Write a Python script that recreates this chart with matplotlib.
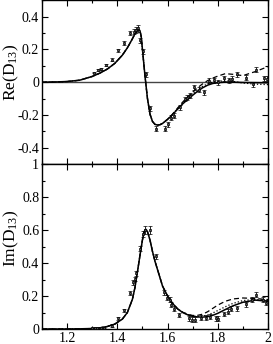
import matplotlib
matplotlib.use("Agg")
import matplotlib.pyplot as plt
from matplotlib.ticker import MultipleLocator, FixedLocator
import numpy as np

plt.rcParams['font.family'] = ['Liberation Serif', 'DejaVu Serif']
plt.rcParams['mathtext.fontset'] = 'custom'
plt.rcParams['mathtext.rm'] = 'Liberation Serif'
plt.rcParams['mathtext.it'] = 'Liberation Serif:italic'

# ---- Top panel: Re(D13) data ----
re_x = [1.309, 1.323, 1.336, 1.353, 1.379, 1.401, 1.428, 1.452, 1.465, 1.476, 1.483,
        1.489, 1.501, 1.513, 1.529, 1.552, 1.588, 1.601, 1.615, 1.625, 1.648, 1.669,
        1.679, 1.688, 1.705, 1.725, 1.745, 1.765, 1.785, 1.801, 1.825, 1.843, 1.856,
        1.876, 1.912, 1.939, 1.952, 1.985, 1.996]
re_y = [0.059, 0.073, 0.079, 0.103, 0.137, 0.194, 0.240, 0.300, 0.307, 0.317, 0.330,
        0.255, 0.190, 0.048, -0.160, -0.285, -0.285, -0.256, -0.216, -0.204, -0.153, -0.103,
        -0.095, -0.083, -0.032, -0.047, -0.063, 0.008, 0.012, -0.002, 0.024, 0.012, 0.022,
        0.048, 0.026, -0.014, 0.075, 0.024, 0.020]
re_err = [0.006, 0.006, 0.006, 0.006, 0.008, 0.008, 0.010, 0.012, 0.015, 0.018, 0.022,
          0.015, 0.015, 0.015, 0.015, 0.015, 0.015, 0.015, 0.015, 0.015, 0.015, 0.015,
          0.015, 0.015, 0.015, 0.015, 0.015, 0.015, 0.015, 0.015, 0.015, 0.015, 0.015,
          0.015, 0.015, 0.015, 0.015, 0.015, 0.015]

re_cx = [1.10, 1.15, 1.20, 1.25, 1.30, 1.33, 1.36, 1.39, 1.42, 1.44, 1.46, 1.47, 1.48,
         1.485, 1.49, 1.495, 1.50, 1.505, 1.51, 1.52, 1.53, 1.54, 1.55, 1.56, 1.57, 1.58,
         1.60, 1.62, 1.64, 1.66, 1.68, 1.70, 1.72, 1.74, 1.76, 1.78, 1.80, 1.83, 1.86,
         1.90, 1.95, 2.00]
re_solid = [0.000, 0.001, 0.004, 0.012, 0.035, 0.055, 0.080, 0.115, 0.165, 0.210, 0.265,
            0.295, 0.318, 0.322, 0.315, 0.280, 0.200, 0.120, 0.040, -0.100, -0.195, -0.240,
            -0.258, -0.262, -0.260, -0.252, -0.228, -0.198, -0.165, -0.133, -0.106, -0.080,
            -0.055, -0.034, -0.018, -0.008, -0.003, 0.000, 0.000, -0.002, -0.003, -0.004]
re_dashed = [0.000, 0.001, 0.004, 0.012, 0.035, 0.055, 0.080, 0.115, 0.165, 0.210, 0.265,
             0.295, 0.318, 0.322, 0.315, 0.280, 0.200, 0.120, 0.040, -0.100, -0.195, -0.240,
             -0.258, -0.262, -0.260, -0.252, -0.226, -0.195, -0.158, -0.122, -0.090, -0.060,
             -0.033, -0.010, 0.010, 0.025, 0.037, 0.052, 0.048, 0.040, 0.065, 0.095]
re_dotted = [0.000, 0.001, 0.004, 0.012, 0.035, 0.055, 0.080, 0.115, 0.165, 0.210, 0.265,
             0.295, 0.318, 0.322, 0.315, 0.280, 0.200, 0.120, 0.040, -0.100, -0.195, -0.240,
             -0.258, -0.262, -0.260, -0.252, -0.227, -0.196, -0.161, -0.127, -0.097, -0.069,
             -0.045, -0.025, -0.010, 0.000, 0.005, 0.008, 0.005, -0.005, -0.012, -0.015]

# ---- Bottom panel: Im(D13) data ----
im_x = [1.300, 1.310, 1.320, 1.333, 1.345, 1.379, 1.403, 1.427, 1.452, 1.461, 1.469,
        1.476, 1.489, 1.501, 1.512, 1.529, 1.552, 1.585, 1.599, 1.609, 1.615, 1.625,
        1.645, 1.685, 1.696, 1.708, 1.732, 1.752, 1.769, 1.792, 1.801, 1.825, 1.839,
        1.852, 1.876, 1.912, 1.935, 1.952, 1.979, 1.992]
im_y = [0.005, 0.006, 0.007, 0.008, 0.008, 0.020, 0.065, 0.113, 0.221, 0.282, 0.303,
        0.339, 0.487, 0.573, 0.600, 0.600, 0.440, 0.224, 0.190, 0.177, 0.146, 0.122,
        0.085, 0.065, 0.055, 0.055, 0.069, 0.069, 0.075, 0.065, 0.061, 0.091, 0.106,
        0.122, 0.126, 0.150, 0.177, 0.207, 0.177, 0.160]
im_err = [0.004, 0.004, 0.004, 0.004, 0.004, 0.008, 0.010, 0.010, 0.012, 0.015, 0.015,
          0.015, 0.015, 0.018, 0.022, 0.022, 0.015, 0.015, 0.015, 0.015, 0.015, 0.015,
          0.015, 0.015, 0.015, 0.015, 0.015, 0.015, 0.015, 0.015, 0.015, 0.015, 0.015,
          0.015, 0.015, 0.015, 0.015, 0.015, 0.015, 0.015]

im_cx = [1.10, 1.20, 1.25, 1.30, 1.33, 1.36, 1.39, 1.42, 1.44, 1.46, 1.47, 1.48, 1.49,
         1.50, 1.505, 1.51, 1.515, 1.52, 1.53, 1.54, 1.55, 1.56, 1.58, 1.60, 1.62, 1.64,
         1.66, 1.68, 1.70, 1.72, 1.74, 1.76, 1.78, 1.80, 1.83, 1.86, 1.90, 1.95, 2.00]
im_solid = [0.000, 0.000, 0.001, 0.003, 0.007, 0.015, 0.030, 0.060, 0.100, 0.180, 0.250,
            0.345, 0.445, 0.540, 0.580, 0.600, 0.603, 0.590, 0.540, 0.470, 0.410, 0.360,
            0.260, 0.200, 0.155, 0.122, 0.100, 0.086, 0.077, 0.073, 0.072, 0.075, 0.083,
            0.095, 0.118, 0.140, 0.162, 0.175, 0.168]
im_dashed = [0.000, 0.000, 0.001, 0.003, 0.007, 0.015, 0.030, 0.060, 0.100, 0.180, 0.250,
             0.345, 0.445, 0.540, 0.580, 0.600, 0.603, 0.590, 0.540, 0.470, 0.410, 0.360,
             0.260, 0.200, 0.155, 0.122, 0.102, 0.090, 0.082, 0.083, 0.090, 0.105, 0.125,
             0.145, 0.168, 0.182, 0.188, 0.185, 0.178]
im_dotted = [0.000, 0.000, 0.001, 0.003, 0.007, 0.015, 0.030, 0.060, 0.100, 0.180, 0.250,
             0.345, 0.445, 0.540, 0.580, 0.600, 0.603, 0.590, 0.540, 0.470, 0.410, 0.360,
             0.260, 0.200, 0.155, 0.122, 0.101, 0.088, 0.078, 0.076, 0.078, 0.085, 0.097,
             0.112, 0.135, 0.155, 0.172, 0.180, 0.172]

top_yticks = [-0.4, -0.2, 0, 0.2, 0.4]
top_yticklabels = ['-0.4', '-0.2', '0', '0.2', '0.4']
bot_yticks = [0, 0.2, 0.4, 0.6, 0.8, 1.0]
bot_yticklabels = ['0', '0.2', '0.4', '0.6', '0.8', '1']
xticks = [1.2, 1.4, 1.6, 1.8, 2.0]
xticklabels = ['1.2', '1.4', '1.6', '1.8', '2']

fig = plt.figure(figsize=(2.73, 3.44), dpi=100)
L, R = 42 / 273, 268 / 273
ax1 = fig.add_axes([L, 1 - 164 / 344, R - L, 164 / 344 - 0.001])
ax2 = fig.add_axes([L, 1 - 329 / 344, R - L, 165 / 344])

fs_tick = 10
fs_lab = 12.5
axw_px = (R - L) * 273

def style(ax):
    ax.set_xlim(1.1, 2.0)
    ax.xaxis.set_major_locator(FixedLocator(xticks))
    ax.xaxis.set_minor_locator(MultipleLocator(0.1))
    ax.yaxis.set_minor_locator(MultipleLocator(0.1))
    ax.tick_params(which='both', direction='in', top=True, right=True,
                   labelsize=fs_tick, width=0.8, pad=2)
    ax.tick_params(which='major', length=4)
    ax.tick_params(which='minor', length=2)
    for s in ax.spines.values():
        s.set_linewidth(1.0)

lw = 1.1
eb = dict(fmt='s', ms=2.0, mfc='#555555', mec='black', mew=0.5, ecolor='black',
          elinewidth=0.6, capsize=1.5, capthick=0.6, zorder=3)

# Top
ax1.axhline(0, color='#444444', lw=1.0, zorder=1)
ax1.plot(re_cx, re_solid, '-', color='black', lw=lw, zorder=2)
ax1.plot(re_cx, re_dashed, '--', color='black', lw=0.9, dashes=(4, 2.5), zorder=2)
ax1.plot(re_cx, re_dotted, ':', color='black', lw=0.9, zorder=2)
ax1.errorbar(re_x, re_y, yerr=re_err, **eb)
style(ax1)
ax1.set_ylim(-0.5, 0.5)
ax1.set_yticks(top_yticks)
ax1.set_yticklabels(top_yticklabels)
ax1.set_xticklabels([])
ax1.set_ylabel('Re(D$_{13}$)', fontsize=fs_lab, va='center')
ax1.yaxis.set_label_coords(-(42 - 11) / axw_px, 0.56)

# Bottom
ax2.plot(im_cx, im_solid, '-', color='black', lw=lw, zorder=2)
ax2.plot(im_cx, im_dashed, '--', color='black', lw=0.9, dashes=(4, 2.5), zorder=2)
ax2.plot(im_cx, im_dotted, ':', color='black', lw=0.9, zorder=2)
ax2.errorbar(im_x, im_y, yerr=im_err, **eb)
style(ax2)
ax2.set_ylim(0, 1.0)
ax2.set_yticks(bot_yticks)
ax2.set_yticklabels(bot_yticklabels)
ax2.set_xticklabels(xticklabels)
ax2.set_ylabel('Im(D$_{13}$)', fontsize=fs_lab, va='center')
ax2.yaxis.set_label_coords(-(42 - 11) / axw_px, 0.55)

fig.savefig('out.png', dpi=100)
